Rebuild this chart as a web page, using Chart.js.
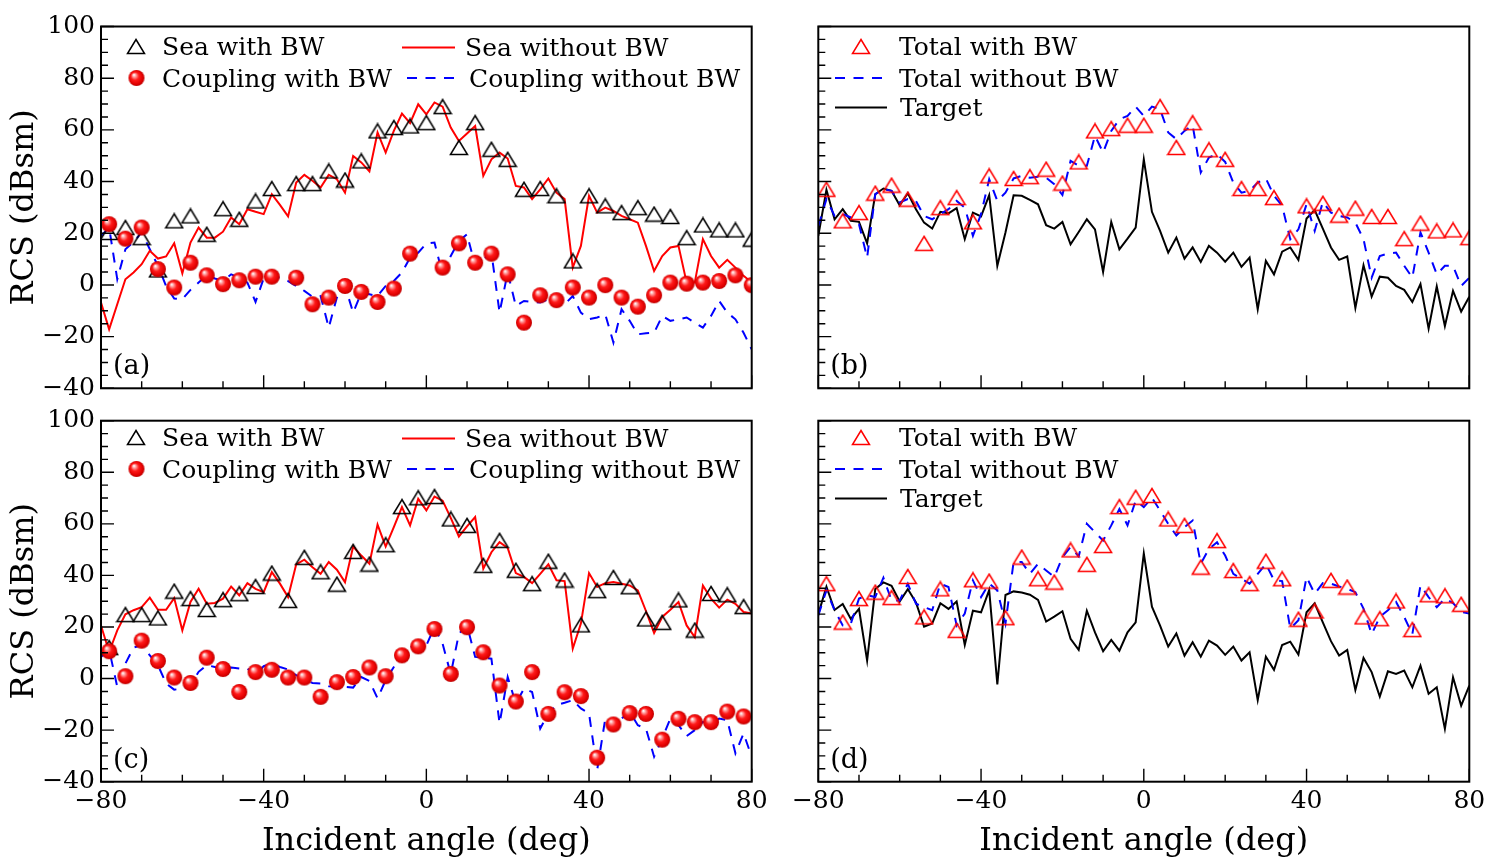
<!DOCTYPE html>
<html><head><meta charset="utf-8">
<script src="https://cdn.jsdelivr.net/npm/chart.js@4.4.1/dist/chart.umd.min.js"></script>
<style>
html,body{margin:0;padding:0;background:#fff;}
body{width:1496px;height:867px;position:relative;overflow:hidden;}
canvas{position:absolute;left:0;top:0;}
</style></head><body>
<canvas id="ca" width="1496" height="867"></canvas>
<canvas id="cb" width="1496" height="867"></canvas>
<canvas id="cc" width="1496" height="867"></canvas>
<canvas id="cd" width="1496" height="867"></canvas>
<script>
// ---------- data ----------
const X_LINE = [-80,-78,-76,-74,-72,-70,-68,-66,-64,-62,-60,-58,-56,-54,-52,-50,-48,-46,-44,-42,-40,-38,-36,-34,-32,-30,-28,-26,-24,-22,-20,-18,-16,-14,-12,-10,-8,-6,-4,-2,0,2,4,6,8,10,12,14,16,18,20,22,24,26,28,30,32,34,36,38,40,42,44,46,48,50,52,54,56,58,60,62,64,66,68,70,72,74,76,78,80];
const X_MARK_AB = [-78,-74,-70,-66,-62,-58,-54,-50,-46,-42,-38,-32,-28,-24,-20,-16,-12,-8,-4,0,4,8,12,16,20,24,28,32,36,40,44,48,52,56,60,64,68,72,76,80];
const X_MARK_CD = [-78,-74,-70,-66,-62,-58,-54,-50,-46,-42,-38,-34,-30,-26,-22,-18,-14,-10,-6,-2,2,6,10,14,18,22,26,30,34,38,42,46,50,54,58,62,66,70,74,78];
const X_TICK_LABELS = [-80,-40,0,40,80];
const Y_TICK_LABELS = [-40,-20,0,20,40,60,80,100];
const X_MINOR = [-80,-70,-60,-50,-40,-30,-20,-10,0,10,20,30,40,50,60,70,80];
const Y_MINOR = [-40,-35,-30,-25,-20,-15,-10,-5,0,5,10,15,20,25,30,35,40,45,50,55,60,65,70,75,80,85,90,95,100];

// panel (a)
const A_SEA_BW = [20.3,22.2,18.3,5.8,24.8,26.7,19.6,29.5,25.4,32.5,37.3,39.2,39.2,44.1,40.6,48.0,59.6,60.9,61.5,62.8,69.0,53.2,62.8,52.5,48.6,37.0,37.3,34.5,9.3,34.5,30.6,28.0,29.9,27.4,26.5,18.3,23.2,21.3,21.3,17.7];
const A_COUP_BW = [23.5,17.9,22.2,6.1,-1.0,8.6,3.7,0.3,1.8,3.2,3.2,2.8,-7.5,-4.9,-0.4,-2.7,-6.6,-1.4,12.1,null,6.7,16.1,8.6,12.1,4.1,-14.6,-4.0,-5.9,-1.0,-4.9,-0.1,-4.9,-8.4,-4.0,0.9,0.5,0.9,1.5,3.7,-0.1];
const A_SEA_NOBW = [-6.8,-17.2,-7.5,2.2,4.8,8.0,13.2,10.2,11.0,16.1,
 4.5,16.4,22.2,18.3,18.3,20.6,26.1,23.5,29.3,28.3,
 27.4,35.1,31.0,26.5,39.6,42.6,40.3,37.7,42.6,40.9,
 35.7,49.9,47.4,43.9,59.0,51.2,59.6,66.3,62.6,69.9,
 66.0,70.6,69.0,60.9,55.7,58.6,61.5,42.2,48.6,51.2,
 48.9,38.3,37.7,33.2,37.0,41.2,35.7,33.2,6.7,15.1,
 34.5,28.0,29.9,28.6,26.7,25.4,24.1,15.1,5.4,11.2,
 14.5,15.1,0.9,0.9,17.7,11.2,6.7,9.7,6.7,3.5,0.9];
const A_COUP_NOBW = [19.0,22.2,2.2,13.8,16.6,20.3,13.8,7.4,-0.4,-5.3,
 -5.5,-1.9,0.9,3.7,2.5,1.5,4.1,2.8,0.9,-6.6,
 2.5,3.5,2.7,1.5,-0.4,-2.3,-4.6,-4.3,-16.5,-4.9,
 -0.4,-10.7,-3.0,-3.6,-4.3,-0.4,1.5,4.8,10.6,12.5,
 16.0,16.4,4.1,11.2,17.0,19.6,7.4,9.9,12.5,-10.7,
 4.8,-8.1,-6.2,-6.6,-6.8,-5.5,-4.3,-7.5,-4.3,-10.7,
 -13.3,-12.6,-11.4,-22.3,-9.4,-13.9,-19.1,-18.7,-18.5,-12.0,
 -13.9,-13.3,-12.6,-14.6,-16.5,-12.0,-6.2,-10.7,-13.3,-18.5,-24.9];

// panel (b)
const B_TOTAL_BW = [37.0,24.8,28.0,35.5,38.6,33.2,16.1,29.9,33.8,24.4,42.2,41.2,41.9,44.8,39.4,47.6,59.6,60.5,61.8,61.8,69.0,53.2,62.8,52.3,48.6,37.3,37.3,33.8,18.3,30.6,31.6,27.0,29.7,26.5,26.5,17.9,23.9,20.9,21.3,18.3];
const B_TOTAL_NOBW = [22.8,33.2,26.7,27.4,26.1,23.5,10.6,35.1,37.0,36.4,
 31.9,33.2,32.5,26.7,25.4,27.4,29.3,32.5,29.9,19.0,
 27.4,40.9,32.5,35.7,41.2,42.2,41.5,41.9,41.5,39.0,
 34.8,48.0,46.1,46.1,57.7,51.2,59.6,64.1,65.4,69.0,
 65.4,69.0,68.0,59.0,56.4,59.6,61.8,43.5,49.3,50.6,
 47.6,39.6,35.7,36.4,39.6,41.2,34.5,30.6,17.7,21.5,
 31.2,20.9,32.1,28.0,26.7,26.1,24.1,17.7,2.8,11.2,
 12.1,12.5,7.4,2.8,20.3,12.5,4.1,7.4,7.4,-0.4,2.8];
const B_TARGET = [19.0,36.8,25.4,29.3,24.8,24.4,16.1,35.1,37.3,36.4,
 30.8,35.5,29.3,24.1,21.8,28.3,27.7,29.7,17.7,28.0,
 26.5,34.7,7.4,20.3,34.7,34.5,32.9,31.2,23.1,21.8,
 24.4,15.7,20.5,25.4,21.5,5.0,24.4,13.8,17.9,22.2,
 48.6,28.3,20.9,12.5,18.3,10.2,14.5,8.9,15.1,12.5,
 9.0,12.5,7.0,10.6,-9.4,9.3,4.1,12.9,14.5,9.7,
 25.7,29.0,21.8,14.5,9.7,11.0,-8.9,7.6,-4.5,3.2,
 2.8,-0.4,-1.9,-6.6,0.3,-16.9,-0.6,-15.9,-2.3,-10.3,-4.6];

// panel (c)
const C_SEA_BW = [12.0,24.8,24.8,23.5,33.9,31.0,26.8,30.6,32.9,35.7,40.9,30.3,47.0,41.4,36.6,49.3,44.4,51.9,66.7,70.1,70.6,61.9,59.4,43.9,53.6,42.0,36.8,45.5,38.2,20.8,34.1,39.2,35.6,23.1,21.8,30.5,18.8,33.0,32.5,27.9];
const C_COUP_BW = [10.6,0.9,14.7,6.8,0.4,-1.7,8.1,3.7,-5.2,2.5,3.4,0.4,0.4,-7.1,-1.4,0.6,4.3,0.9,9.0,12.5,19.2,1.8,19.9,10.2,-2.7,-8.9,2.5,-13.7,-5.3,-6.8,-30.7,-17.8,-13.4,-13.7,-23.7,-15.6,-16.9,-16.9,-12.8,-14.7];
const C_SEA_NOBW = [20.6,10.3,18.7,24.9,26.5,27.7,31.4,26.7,26.7,31.2,
 18.7,29.7,34.8,29.0,29.3,31.0,35.7,32.3,37.0,34.8,
 33.5,41.3,36.8,31.6,44.3,46.1,43.2,40.6,45.2,42.2,
 37.4,51.2,47.7,44.5,59.7,51.2,58.7,66.5,59.4,69.7,
 65.2,70.6,69.0,62.3,55.1,59.0,62.6,42.6,49.0,52.9,
 50.7,40.9,39.4,37.0,40.6,44.3,38.1,37.8,11.6,21.3,
 40.9,35.5,37.0,37.4,36.8,36.1,34.2,26.2,17.7,23.9,
 26.7,29.7,20.6,16.1,36.1,31.0,27.5,30.6,29.0,25.8,25.2];
const C_COUP_NOBW = [8.4,11.2,-3.2,5.8,12.0,12.9,9.0,5.2,-1.9,-4.3,
 -3.9,-2.6,2.6,5.2,4.5,3.9,4.3,3.9,3.9,1.3,
 4.8,5.8,4.5,3.5,1.3,-0.4,-1.7,-1.9,-3.0,-3.2,
 -3.2,-3.5,0.6,-0.9,-7.7,-0.6,4.5,10.7,12.0,13.5,
 12.9,20.0,13.5,1.7,17.4,20.6,8.4,8.1,7.7,-17.4,
 0.6,-9.7,-3.9,-5.2,-19.4,-13.5,-10.3,-9.4,-8.4,-11.6,
 -13.5,-35.5,-15.5,-18.7,-15.5,-12.9,-18.1,-19.4,-30.3,-23.2,
 -15.5,-18.1,-22.3,-20.0,-16.8,-18.1,-15.5,-16.1,-29.0,-21.3,-30.3];

// panel (d)
const D_TOTAL_BW = [36.8,21.9,31.0,33.5,31.4,39.6,23.9,34.8,18.7,38.3,37.8,23.6,47.1,38.7,37.4,49.9,44.3,51.6,66.7,70.3,71.0,61.9,59.4,43.2,53.5,41.9,36.8,45.5,38.7,23.0,26.2,38.1,35.5,23.9,23.2,30.1,19.0,32.5,32.1,28.8];
const D_TOTAL_NOBW = [24.5,34.2,26.5,20.6,21.3,31.0,32.3,31.6,39.1,30.3,
 30.3,36.8,29.0,27.7,26.5,36.8,35.5,20.6,25.2,38.1,
 31.6,36.8,34.2,21.3,45.2,45.2,40.6,44.5,41.9,39.4,
 47.1,51.0,47.4,60.0,56.8,53.5,59.4,65.8,59.4,69.0,
 66.5,70.1,65.2,60.0,55.5,58.7,61.3,44.5,50.3,52.9,
 47.7,40.6,38.7,36.8,40.6,44.5,38.1,37.8,19.4,22.6,
 39.4,32.9,37.0,36.8,35.7,34.8,33.5,27.1,17.2,23.9,
 26.5,29.7,23.9,17.2,36.1,31.6,27.7,31.0,29.3,25.8,25.2];
const D_TARGET = [25.0,35.6,26.6,28.9,23.1,27.0,7.0,34.7,37.3,36.0,
 29.9,34.7,29.5,20.1,21.4,29.2,27.0,29.9,13.0,26.3,
 25.7,34.3,-2.3,32.4,33.8,33.4,32.5,30.5,22.1,24.0,
 26.1,15.4,11.1,26.3,17.9,10.6,15.0,10.8,17.9,21.8,
 48.5,27.9,20.5,12.4,17.5,8.9,14.1,8.5,14.7,12.8,
 9.2,12.4,7.0,10.2,-8.3,8.5,3.4,13.0,14.3,9.3,
 25.7,29.2,21.8,14.5,8.9,11.1,-4.4,8.0,2.5,-7.0,
 2.8,1.8,3.1,-3.4,5.0,-5.9,-3.4,-19.5,0.5,-10.5,-2.7];

// ---------- rendering ----------
const W = 1496, H = 867;
const FONT = '"DejaVu Serif", "Liberation Serif", serif';
const RED = '#ff0000', BLUE = '#0000ff', BLACK = '#000000';
const DASH = [10, 8.5];

function makeTri(color) {
  const c = document.createElement('canvas'); c.width = 20; c.height = 17;
  const g = c.getContext('2d');
  g.strokeStyle = color; g.lineWidth = 1.5; g.lineJoin = 'miter';
  g.beginPath(); g.moveTo(10, 1.5); g.lineTo(18.5, 15.5); g.lineTo(1.5, 15.5); g.closePath(); g.stroke();
  return c;
}
function makeSphere() {
  const c = document.createElement('canvas'); c.width = 18; c.height = 18;
  const g = c.getContext('2d');
  const gr = g.createRadialGradient(6.3, 5.8, 0.3, 9, 9, 8.5);
  gr.addColorStop(0, '#ffffff');
  gr.addColorStop(0.18, '#ffa0a0');
  gr.addColorStop(0.45, '#ff1a1a');
  gr.addColorStop(0.8, '#e00000');
  gr.addColorStop(1, '#b00000');
  g.fillStyle = gr; g.beginPath(); g.arc(9, 9, 8, 0, Math.PI * 2); g.fill();
  return c;
}
const IMG = { triK: makeTri(BLACK), triR: makeTri(RED), sphere: makeSphere() };

const fmt = v => (v < 0 ? '\u2212' + Math.abs(v) : String(v));
function pts(xs, ys) { const o = []; for (let i = 0; i < xs.length; i++) if (ys[i] !== null) o.push({ x: xs[i], y: ys[i] }); return o; }

const deco = {
  id: 'panelDeco',
  afterDatasetsDraw(chart, args, o) {
    const ctx = chart.ctx, a = chart.chartArea, xs = chart.scales.x, ys = chart.scales.y;
    ctx.save();
    ctx.strokeStyle = '#000'; ctx.lineWidth = 1.4; ctx.setLineDash([]);
    ctx.beginPath();
    Y_MINOR.forEach(v => { const py = ys.getPixelForValue(v); const len = (v % 20 === 0) ? 13 : 7; ctx.moveTo(a.left, py); ctx.lineTo(a.left + len, py); });
    X_MINOR.forEach(v => { const px = xs.getPixelForValue(v); const len = (v % 40 === 0) ? 13 : 7; ctx.moveTo(px, a.bottom); ctx.lineTo(px, a.bottom - len); });
    ctx.stroke();
    ctx.lineWidth = 2;
    ctx.strokeRect(a.left, a.top, a.right - a.left, a.bottom - a.top);
    ctx.restore();
  },
  afterDraw(chart, args, o) {
    const ctx = chart.ctx, a = chart.chartArea;
    ctx.save();
    ctx.fillStyle = '#000';
    ctx.font = '25px ' + FONT;
    ctx.textAlign = 'left'; ctx.textBaseline = 'alphabetic';
    (o.legend || []).forEach(e => {
      if (e.m === 'triK' || e.m === 'triR' || e.m === 'sphere') {
        const im = IMG[e.m];
        ctx.drawImage(im, e.x - im.width / 2, e.y - im.height / 2);
      } else {
        ctx.save();
        ctx.strokeStyle = e.color; ctx.lineWidth = 2;
        ctx.setLineDash(e.m === 'dash' ? DASH : []);
        ctx.beginPath(); ctx.moveTo(e.x1, e.y); ctx.lineTo(e.x2, e.y); ctx.stroke();
        ctx.restore();
      }
      ctx.fillText(e.text, e.tx, e.y + 8.5);
    });
    ctx.font = '27px ' + FONT;
    ctx.textBaseline = 'middle';
    ctx.fillText(o.tag, a.left + 12, a.bottom - 21);
    ctx.font = '32px ' + FONT;
    ctx.textAlign = 'center';
    if (o.yTitle) {
      ctx.save(); ctx.translate(25, (a.top + a.bottom) / 2); ctx.rotate(-Math.PI / 2);
      ctx.fillText(o.yTitle, 0, 0); ctx.restore();
    }
    if (o.xTitle) ctx.fillText(o.xTitle, (a.left + a.right) / 2, 842);
    ctx.restore();
  }
};

function panel(id, area, datasets, cfg) {
  const YW = 70, XH = 50;
  return new Chart(document.getElementById(id), {
    type: 'line',
    data: { datasets },
    options: {
      responsive: false, animation: false, devicePixelRatio: 1, events: [],
      layout: { padding: { left: area.l - YW, right: W - area.r, top: area.t, bottom: H - area.b - XH } },
      plugins: { legend: { display: false }, tooltip: { enabled: false }, panelDeco: cfg },
      elements: { line: { tension: 0 } },
      scales: {
        x: {
          type: 'linear', min: -80, max: 80,
          afterFit: s => { s.height = XH; },
          grid: { display: false, drawTicks: false }, border: { display: false },
          afterBuildTicks: s => { s.ticks = X_TICK_LABELS.map(v => ({ value: v })); },
          ticks: { display: cfg.xLabels, padding: 5, color: '#000', font: { family: FONT, size: 25 }, callback: fmt, maxRotation: 0, autoSkip: false }
        },
        y: {
          type: 'linear', min: -40, max: 100,
          afterFit: s => { s.width = YW; },
          grid: { display: false, drawTicks: false }, border: { display: false },
          afterBuildTicks: s => { s.ticks = Y_TICK_LABELS.map(v => ({ value: v })); },
          ticks: { display: cfg.yLabels, padding: 6, color: '#000', font: { family: FONT, size: 25 }, callback: fmt, autoSkip: false }
        }
      }
    },
    plugins: [deco]
  });
}

function markerSet(xs, ys, img) {
  return { data: pts(xs, ys), showLine: false, pointStyle: IMG[img], pointRadius: 8, borderWidth: 0, backgroundColor: 'transparent', borderColor: 'transparent' };
}
function lineSet(ys, color, dashed) {
  return { data: pts(X_LINE, ys), borderColor: color, borderWidth: 2, borderDash: dashed ? DASH : [], pointRadius: 0, fill: false };
}

const A = { l: 101, r: 751.7, t: 26.5, b: 388.3 };
const B = { l: 818.3, r: 1469.3, t: 26.5, b: 388.3 };
const C = { l: 101, r: 751.7, t: 420.7, b: 781.7 };
const D = { l: 818.3, r: 1469.3, t: 420.7, b: 781.7 };

function legAC(dy) {
  return [
    { m: 'triK', x: 136, y: 46.5 + dy, text: 'Sea with BW', tx: 162 },
    { m: 'line', color: RED, x1: 402, x2: 455, y: 47.5 + dy, text: 'Sea without BW', tx: 465 },
    { m: 'sphere', x: 136.5, y: 78 + dy, text: 'Coupling with BW', tx: 162 },
    { m: 'dash', color: BLUE, x1: 407, x2: 455, y: 78 + dy, text: 'Coupling without BW', tx: 469 }
  ];
}
function legBD(dy) {
  return [
    { m: 'triR', x: 861, y: 46.5 + dy, text: 'Total with BW', tx: 899 },
    { m: 'dash', color: BLUE, x1: 835, x2: 885, y: 78 + dy, text: 'Total without BW', tx: 899 },
    { m: 'line', color: BLACK, x1: 835, x2: 887, y: 107.5 + dy, text: 'Target', tx: 900 }
  ];
}

panel('ca', A, [
  markerSet(X_MARK_AB, A_COUP_BW, 'sphere'),
  markerSet(X_MARK_AB, A_SEA_BW, 'triK'),
  lineSet(A_SEA_NOBW, RED, false),
  lineSet(A_COUP_NOBW, BLUE, true)
], { xLabels: false, yLabels: true, tag: '(a)', yTitle: 'RCS (dBsm)', xTitle: null, legend: legAC(0) });

panel('cb', B, [
  markerSet(X_MARK_AB, B_TOTAL_BW, 'triR'),
  lineSet(B_TOTAL_NOBW, BLUE, true),
  lineSet(B_TARGET, BLACK, false)
], { xLabels: false, yLabels: false, tag: '(b)', yTitle: null, xTitle: null, legend: legBD(0) });

panel('cc', C, [
  markerSet(X_MARK_CD, C_COUP_BW, 'sphere'),
  markerSet(X_MARK_CD, C_SEA_BW, 'triK'),
  lineSet(C_SEA_NOBW, RED, false),
  lineSet(C_COUP_NOBW, BLUE, true)
], { xLabels: true, yLabels: true, tag: '(c)', yTitle: 'RCS (dBsm)', xTitle: 'Incident angle (deg)', legend: legAC(391) });

panel('cd', D, [
  markerSet(X_MARK_CD, D_TOTAL_BW, 'triR'),
  lineSet(D_TOTAL_NOBW, BLUE, true),
  lineSet(D_TARGET, BLACK, false)
], { xLabels: true, yLabels: false, tag: '(d)', yTitle: null, xTitle: 'Incident angle (deg)', legend: legBD(391) });
</script>
</body></html>
